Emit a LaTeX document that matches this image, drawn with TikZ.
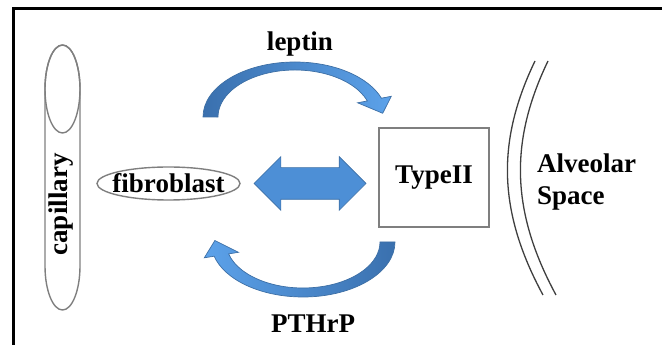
\documentclass[tikz,border=0pt]{standalone}
\usepackage{fontspec}
\setmainfont{Liberation Serif}
\usepackage{tikz}
\usetikzlibrary{shapes.arrows}
\definecolor{okMavi}{HTML}{4D8FD6}
\definecolor{okKenar}{HTML}{3D6FA5}
\definecolor{okKoyu}{HTML}{3A70AE}
\definecolor{okAcik}{HTML}{5CA2EA}
\definecolor{hucreGri}{HTML}{7F7F7F}
\definecolor{duvarGri}{HTML}{3F3F3F}

\begin{document}
\begin{tikzpicture}[x=1pt, y=1pt,
  every node/.style={font=\bfseries\fontsize{27}{32}\selectfont, inner sep=0pt},
  hucre/.style={draw=hucreGri, line width=1.4pt},
  blokOk/.style={draw=okKenar, line width=0.7pt}]
\useasboundingbox (0,0) rectangle (662,345);
\draw[line width=3pt] (13.5,0) -- (13.5,336) -- (662,336);
% capillary
\draw[hucre] (45,256) -- (45,79) arc[start angle=180, end angle=360, x radius=17.5, y radius=44]
  -- (80,256) arc[start angle=0, end angle=180, x radius=17.5, y radius=44] -- cycle;
\draw[hucre] (62.5,256) ellipse[x radius=17.5, y radius=44];
\node[rotate=90] (kap) at (61.5,140.5) {capillary};
% cells
\node (fib) at (168.5,161.5) {fibroblast};
\draw[hucre] (fib.center) ellipse[x radius=71.5, y radius=16.5];
\node[hucre, minimum width=110pt, minimum height=99pt] (tip2) at (434,167.5) {TypeII};
\node[double arrow, blokOk, fill=okMavi, inner xsep=0pt, inner ysep=15.5pt,
  minimum height=112pt, double arrow head extend=11pt] (cift) at (310,161.5) {};
% signals
\path[blokOk, left color=okKoyu, right color=okAcik]
  (203,228) arc[start angle=180, end angle=20, x radius=92, y radius=55]
  -- (391.3,248.7) -- (382.7,231.7) -- (357.6,242.2)
  -- (367.36,244.07) arc[start angle=20, end angle=180, x radius=77, y radius=47] -- cycle;
\path[blokOk, left color=okAcik, right color=okKoyu]
  (395,103) arc[start angle=0, end angle=-165, x radius=92, y radius=55]
  -- (204.3,87.2) -- (214.9,104.5) -- (238.5,92.7)
  -- (228.62,91.1) arc[start angle=-165, end angle=0, x radius=77, y radius=46] -- cycle;
\node[anchor=base] (lep) at (300,294.5) {leptin};
\node[anchor=base] (pth) at (313,12) {PTHrP};
% alveolar wall
\draw[duvarGri, line width=1.3pt] (535,284) .. controls (497,205) and (497,135) .. (543,50);
\draw[duvarGri, line width=1.3pt] (548,284) .. controls (510,205) and (510,135) .. (556,50);
\node[anchor=west, align=left] (alv) at (537,163.2) {Alveolar\\Space};
\end{tikzpicture}
\end{document}
